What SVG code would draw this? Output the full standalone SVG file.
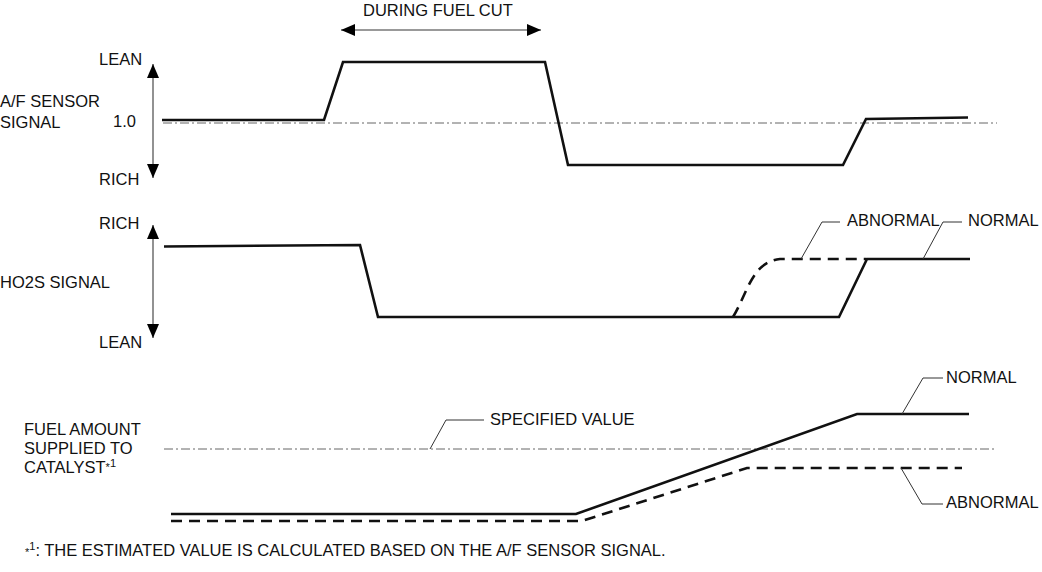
<svg xmlns="http://www.w3.org/2000/svg" width="1042" height="572" viewBox="0 0 1042 572">
<style>
text{font-family:"Liberation Sans",Arial,sans-serif;font-size:16.5px;fill:#111}
.sig{fill:none;stroke:#111;stroke-width:2.6;stroke-linejoin:miter}
.dsh{fill:none;stroke:#111;stroke-width:2.6;stroke-dasharray:11 7}
.ref{fill:none;stroke:#666;stroke-width:1;stroke-dasharray:9 3 2 3}
.lead{fill:none;stroke:#333;stroke-width:1}
.axis{fill:none;stroke:#777;stroke-width:1.6}
.sup{font-size:11px}
</style>
<defs>
<marker id="ah" viewBox="0 0 14 12" refX="14" refY="6" markerWidth="14" markerHeight="12" markerUnits="userSpaceOnUse" orient="auto-start-reverse">
<path d="M0,0 L14,6 L0,12 z" fill="#000"/>
</marker>
</defs>
<g id="labels">
<text x="363" y="16">DURING FUEL CUT</text>
<text x="99" y="65">LEAN</text>
<text x="0" y="107">A/F SENSOR</text>
<text x="0" y="128">SIGNAL</text>
<text x="113" y="127">1.0</text>
<text x="99" y="185">RICH</text>
<text x="99" y="229">RICH</text>
<text x="0" y="288">HO2S SIGNAL</text>
<text x="99" y="348">LEAN</text>
<text x="24" y="435">FUEL AMOUNT</text>
<text x="24" y="454">SUPPLIED TO</text>
<text x="24" y="473">CATALYST<tspan class="sup" dy="-2">*</tspan><tspan class="sup" dy="-4">1</tspan></text>
<text x="25" y="556"><tspan class="sup">*</tspan><tspan class="sup" dy="-6">1</tspan><tspan dy="6">: THE ESTIMATED VALUE IS CALCULATED BASED ON THE A/F SENSOR SIGNAL.</tspan></text>
</g>
<g id="af-sensor">
<path class="ref" d="M163,123 H997"/>
<path class="sig" d="M162,120 H324 L343,62 H545 L568,165 H843 L866,119 L968,117.5"/>
</g>
<g id="ho2s">
<path class="dsh" d="M733,317 C748,292 752,262 780,259 L866,259"/>
<path class="sig" d="M164,246.5 L360,245 L378,317 H839 L867,259 H970"/>
<text x="847" y="226">ABNORMAL</text>
<text x="968" y="226">NORMAL</text>
</g>
<g id="fuel">
<path class="ref" d="M164,449 H997"/>
<path class="dsh" d="M171,521 H582 L747,468 H962"/>
<path class="sig" d="M171,514 H576 L857,414 H969"/>
<text x="490" y="425">SPECIFIED VALUE</text>
<text x="946" y="383">NORMAL</text>
<text x="946" y="508">ABNORMAL</text>
</g>
<g id="connectors">
<line class="axis" x1="341" y1="30" x2="541" y2="30" marker-start="url(#ah)" marker-end="url(#ah)"/>
<line class="axis" x1="153" y1="64" x2="153" y2="178" marker-start="url(#ah)" marker-end="url(#ah)"/>
<line class="axis" x1="153" y1="225" x2="153" y2="338" marker-start="url(#ah)" marker-end="url(#ah)"/>
<path class="lead" d="M840,222 H822 L801,259"/>
<path class="lead" d="M962,222 H943 L923,259"/>
<path class="lead" d="M484,420 H446 L430,449"/>
<path class="lead" d="M943,378 H923 L902,414"/>
<path class="lead" d="M901,468 L922,504 H943"/>
</g>
</svg>
